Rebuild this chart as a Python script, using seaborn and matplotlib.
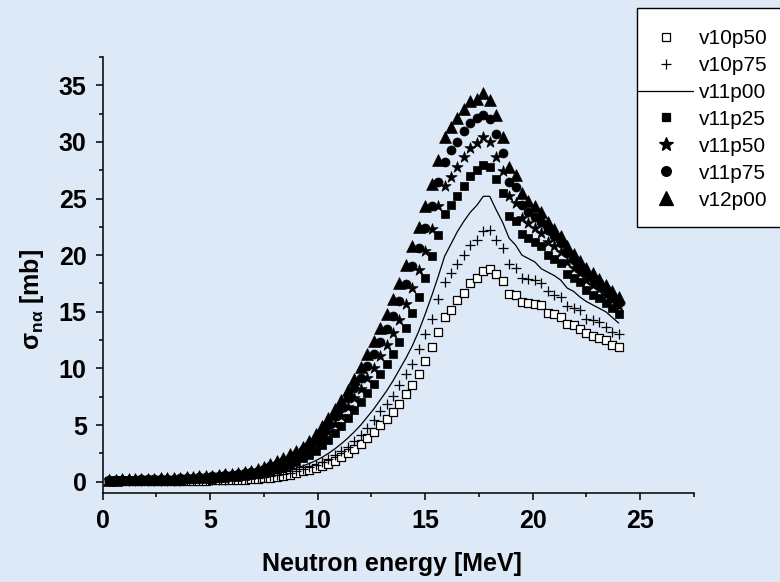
"""secao de choque (n,alpha) para varios conjuntos de parametros.

para rodar: python3 plot.py
"""

from __future__ import annotations

import matplotlib

matplotlib.use("Agg")

import matplotlib.pyplot as plt
import seaborn as sns
from matplotlib.lines import Line2D
from matplotlib.patches import Rectangle
from matplotlib.ticker import MultipleLocator

# energia do neutron [MeV]
energia = [
    0.3, 0.6, 0.9, 1.2, 1.5, 1.8, 2.1, 2.4, 2.7, 3.0,
    3.3, 3.6, 3.9, 4.2, 4.5, 4.8, 5.1, 5.4, 5.7, 6.0,
    6.3, 6.6, 6.9, 7.2, 7.5, 7.8, 8.1, 8.4, 8.7, 9.0,
    9.3, 9.6, 9.9, 10.2, 10.5, 10.8, 11.1, 11.4, 11.7, 12.0,
    12.3, 12.6, 12.9, 13.2, 13.5, 13.8, 14.1, 14.4, 14.7, 15.0,
    15.3, 15.6, 15.9, 16.2, 16.5, 16.8, 17.1, 17.4, 17.7, 18.0,
    18.3, 18.6, 18.9, 19.2, 19.5, 19.8, 20.1, 20.4, 20.7, 21.0,
    21.3, 21.6, 21.9, 22.2, 22.5, 22.8, 23.1, 23.4, 23.7, 24.0,
]

# secao de choque [mb] por conjunto
v10p50 = [
    0.05, 0.05, 0.05, 0.05, 0.06, 0.06, 0.06, 0.06, 0.07, 0.07,
    0.07, 0.08, 0.08, 0.09, 0.10, 0.10, 0.11, 0.12, 0.13, 0.15,
    0.17, 0.19, 0.22, 0.26, 0.30, 0.36, 0.43, 0.52, 0.63, 0.76,
    0.90, 1.05, 1.20, 1.40, 1.60, 1.85, 2.15, 2.50, 2.90, 3.35,
    3.85, 4.40, 5.00, 5.55, 6.15, 6.90, 7.70, 8.50, 9.50, 10.7,
    11.9, 13.25, 14.5, 15.2, 16.0, 16.7, 17.5, 18.0, 18.6, 18.8,
    18.3, 17.7, 16.6, 16.5, 15.9, 15.8, 15.7, 15.6, 14.9, 14.8,
    14.5, 13.9, 13.8, 13.5, 13.1, 12.9, 12.7, 12.5, 12.1, 11.9,
]
v10p75 = [
    0.06, 0.06, 0.07, 0.07, 0.07, 0.08, 0.08, 0.08, 0.09, 0.09,
    0.10, 0.10, 0.11, 0.12, 0.13, 0.14, 0.15, 0.16, 0.18, 0.20,
    0.23, 0.26, 0.30, 0.35, 0.41, 0.48, 0.57, 0.68, 0.81, 0.95,
    1.10, 1.30, 1.50, 1.70, 2.00, 2.35, 2.70, 3.10, 3.55, 4.10,
    4.75, 5.45, 6.20, 6.90, 7.60, 8.55, 9.50, 10.4, 11.7, 13.0,
    14.4, 16.1, 17.6, 18.4, 19.2, 20.0, 20.9, 21.3, 22.1, 22.2,
    21.3, 20.6, 19.2, 18.9, 18.0, 17.9, 17.8, 17.5, 16.8, 16.5,
    16.3, 15.5, 15.3, 15.2, 14.4, 14.3, 14.1, 13.7, 13.25, 13.05,
]
v11p00 = [
    0.07, 0.08, 0.08, 0.08, 0.09, 0.09, 0.10, 0.10, 0.11, 0.11,
    0.12, 0.13, 0.14, 0.15, 0.16, 0.17, 0.19, 0.21, 0.23, 0.26,
    0.29, 0.33, 0.38, 0.44, 0.52, 0.61, 0.72, 0.85, 1.00, 1.18,
    1.38, 1.60, 1.85, 2.15, 2.50, 2.90, 3.35, 3.85, 4.40, 5.00,
    5.70, 6.40, 7.20, 8.00, 8.90, 9.90, 10.9, 12.0, 13.3, 14.8,
    16.4, 18.1, 19.9, 21.0, 22.1, 23.0, 23.8, 24.4, 25.2, 25.2,
    24.0, 22.9, 21.5, 20.9, 20.0, 19.7, 19.4, 18.8, 18.5, 18.2,
    17.8, 17.1, 16.8, 16.3, 15.9, 15.6, 15.3, 15.0, 14.5, 14.0,
]
v11p25 = [
    0.10, 0.11, 0.11, 0.12, 0.12, 0.13, 0.14, 0.14, 0.15, 0.16,
    0.17, 0.18, 0.20, 0.21, 0.23, 0.25, 0.28, 0.31, 0.34, 0.39,
    0.45, 0.52, 0.60, 0.70, 0.82, 0.96, 1.12, 1.30, 1.50, 1.75,
    2.05, 2.35, 2.75, 3.20, 3.70, 4.30, 4.90, 5.60, 6.30, 7.00,
    7.80, 8.60, 9.50, 10.4, 11.3, 12.3, 13.6, 14.9, 16.3, 18.0,
    19.9, 21.8, 23.6, 24.4, 25.2, 26.1, 27.0, 27.5, 28.0, 27.8,
    26.7, 25.5, 23.5, 23.0, 21.9, 21.5, 21.2, 20.8, 20.0, 19.7,
    19.3, 18.3, 18.0, 17.6, 16.9, 16.5, 16.2, 15.8, 15.3, 14.8,
]
v11p50 = [
    0.13, 0.14, 0.15, 0.15, 0.16, 0.17, 0.18, 0.19, 0.20, 0.22,
    0.23, 0.25, 0.27, 0.29, 0.32, 0.34, 0.38, 0.42, 0.46, 0.51,
    0.58, 0.65, 0.73, 0.85, 1.00, 1.18, 1.38, 1.60, 1.84, 2.13,
    2.45, 2.83, 3.30, 3.85, 4.42, 5.10, 5.77, 6.55, 7.36, 8.18,
    9.13, 10.04, 11.06, 12.07, 13.12, 14.28, 15.69, 17.14, 18.66, 20.39,
    22.33, 24.31, 26.1, 26.9, 27.8, 28.7, 29.5, 29.9, 30.4, 30.0,
    28.7, 27.4, 25.2, 24.6, 23.3, 22.8, 22.4, 22.0, 21.2, 20.8,
    20.3, 19.4, 18.9, 18.4, 17.8, 17.4, 17.0, 16.5, 16.0, 15.5,
]
v11p75 = [
    0.15, 0.16, 0.17, 0.18, 0.19, 0.21, 0.22, 0.23, 0.25, 0.27,
    0.28, 0.31, 0.33, 0.36, 0.39, 0.43, 0.46, 0.51, 0.56, 0.62,
    0.68, 0.76, 0.85, 0.98, 1.16, 1.37, 1.60, 1.86, 2.13, 2.45,
    2.79, 3.23, 3.77, 4.39, 5.03, 5.77, 6.51, 7.35, 8.26, 9.17,
    10.25, 11.26, 12.37, 13.48, 14.66, 15.94, 17.45, 19.03, 20.64, 22.41,
    24.38, 26.42, 28.2, 29.3, 30.0, 31.0, 31.7, 32.1, 32.4, 32.0,
    30.7, 29.0, 26.5, 26.0, 24.4, 23.8, 23.4, 22.9, 22.2, 21.7,
    21.1, 20.2, 19.6, 19.0, 18.4, 17.9, 17.5, 17.0, 16.4, 15.9,
]
v12p00 = [
    0.17, 0.18, 0.20, 0.21, 0.22, 0.24, 0.25, 0.27, 0.29, 0.31,
    0.33, 0.36, 0.39, 0.42, 0.46, 0.50, 0.54, 0.59, 0.65, 0.71,
    0.78, 0.86, 0.95, 1.10, 1.30, 1.55, 1.80, 2.10, 2.40, 2.75,
    3.10, 3.60, 4.20, 4.90, 5.60, 6.40, 7.20, 8.10, 9.10, 10.1,
    11.3, 12.4, 13.6, 14.8, 16.1, 17.5, 19.1, 20.8, 22.5, 24.3,
    26.3, 28.4, 30.4, 31.3, 32.1, 32.9, 33.6, 33.8, 34.3, 33.7,
    32.4, 30.4, 27.8, 27.1, 25.5, 24.8, 24.3, 23.8, 22.9, 22.3,
    21.7, 20.8, 20.1, 19.5, 18.9, 18.4, 17.9, 17.4, 16.8, 16.3,
]

series = ["v10p50", "v10p75", "v11p00", "v11p25", "v11p50", "v11p75", "v12p00"]
valores = [v10p50, v10p75, v11p00, v11p25, v11p50, v11p75, v12p00]

# estilo de cada conjunto (None = so a linha)
estilos = {
    "v10p50": dict(marker="s", s=28, color="white", edgecolor="black", linewidth=0.9),
    "v10p75": dict(marker="+", s=44, color="black", linewidth=0.9),
    "v11p00": None,
    "v11p25": dict(marker="s", s=34, color="black", edgecolor="black", linewidth=0.5),
    "v11p50": dict(marker="*", s=72, color="black", edgecolor="black", linewidth=0.5),
    "v11p75": dict(marker="o", s=42, color="black", edgecolor="black", linewidth=0.5),
    "v12p00": dict(marker="^", s=72, color="black", edgecolor="black", linewidth=0.5),
}

FUNDO = "#dde9f6"
W, H = 780, 582


def _legend_handle(nome: str) -> Line2D:
    st = estilos[nome]
    if st is None:
        return Line2D([], [], color="black", linewidth=0.9)
    face = "white" if nome == "v10p50" else "black"
    size = {"s": 6.0, "+": 7.0, "*": 10.0, "o": 7.0, "^": 10.0}[st["marker"]]
    return Line2D(
        [], [], linestyle="None", marker=st["marker"], markersize=size,
        markerfacecolor=face, markeredgecolor="black", markeredgewidth=0.9,
        color="black",
    )


def main() -> None:
    sns.set_style("ticks")
    plt.rcParams["font.family"] = ["Liberation Sans", "DejaVu Sans"]
    plt.rcParams["mathtext.fontset"] = "custom"
    plt.rcParams["mathtext.rm"] = "Liberation Sans:bold"
    plt.rcParams["mathtext.bf"] = "Liberation Sans:bold"
    plt.rcParams["mathtext.it"] = "Liberation Sans:bold"
    plt.rcParams["mathtext.default"] = "bf"
    for chave in ("text.color", "axes.labelcolor", "xtick.color", "ytick.color"):
        plt.rcParams[chave] = "black"

    fig = plt.figure(figsize=(W / 100, H / 100), dpi=100, facecolor=FUNDO)
    ax = fig.add_axes([102.7 / W, 89 / H, 591.3 / W, 436 / H])
    ax.set_facecolor("none")

    for z, (nome, vals) in enumerate(zip(series, valores)):
        st = estilos[nome]
        if st is None:
            sns.lineplot(x=energia, y=vals, color="black", linewidth=0.9, ax=ax,
                         legend=False, zorder=3 + z)
        else:
            sns.scatterplot(x=energia, y=vals, ax=ax, legend=False, zorder=3 + z, **st)

    ax.set_xlim(0, 27.5)
    ax.set_ylim(-1, 37.5)
    ax.xaxis.set_major_locator(MultipleLocator(5))
    ax.xaxis.set_minor_locator(MultipleLocator(2.5))
    ax.yaxis.set_major_locator(MultipleLocator(5))
    ax.yaxis.set_minor_locator(MultipleLocator(2.5))
    sns.despine(ax=ax)
    for sp in ("left", "bottom"):
        ax.spines[sp].set_linewidth(1.1)
        ax.spines[sp].set_color("black")
    ax.tick_params(which="major", direction="out", length=5, width=1.1, color="black",
                   labelcolor="black", labelsize=18, pad=6.5)
    ax.tick_params(which="minor", direction="out", length=3, width=1.1, color="black")
    for lab in ax.get_xticklabels() + ax.get_yticklabels():
        lab.set_fontweight("bold")

    ax.set_xlabel("Neutron energy [MeV]", fontsize=18, fontweight="bold", color="black")
    ax.xaxis.set_label_coords(0.49, -0.135)
    ax.set_ylabel(r"$\sigma_{n\alpha}$ [mb]", fontsize=18, fontweight="bold", color="black")
    ax.yaxis.set_label_coords(-0.096, 0.445)

    # caixa da legenda (vai ate a borda direita da figura)
    caixa = Rectangle((637 / W, 1 - 227 / H), (W + 5 - 637) / W, 219 / H,
                      transform=fig.transFigure, facecolor="white", edgecolor="black",
                      linewidth=1.0, zorder=20)
    fig.add_artist(caixa)

    handles = [_legend_handle(n) for n in series]
    leg = fig.legend(
        handles, series, loc="upper left", bbox_to_anchor=(638 / W, 1 - 29 / H),
        bbox_transform=fig.transFigure, frameon=False, borderpad=0, borderaxespad=0,
        fontsize=15, handlelength=2.64, handletextpad=0.29, labelspacing=0.38,
    )
    for txt in leg.get_texts():
        txt.set_color("black")
    leg.set_zorder(30)

    fig.savefig("out.png", dpi=100, facecolor=FUNDO)
    plt.close(fig)


if __name__ == "__main__":
    main()
